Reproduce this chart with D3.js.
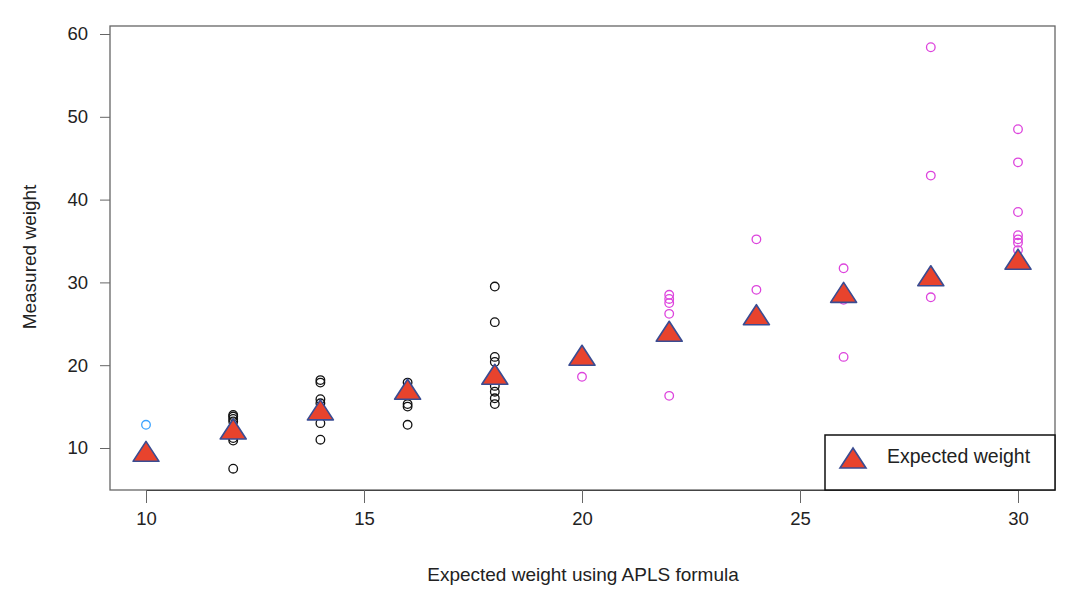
<!DOCTYPE html>
<html>
<head>
<meta charset="utf-8">
<script src="https://cdn.jsdelivr.net/npm/d3@7"></script>
<style>
  body { margin: 0; background: #fff; }
  text { font-family: "Liberation Sans", Arial, sans-serif; }
</style>
</head>
<body>
<svg id="chart" width="1066" height="591"></svg>
<script>
// expected weight (x) groups and the mean triangle values
const groups = [10, 12, 14, 16, 18, 20, 22, 24, 26, 28, 30]
const expected = [9.6, 12.3, 14.6, 17.1, 18.9, 21.2, 24.1, 26.1, 28.8, 30.8, 32.8]

// measured weights per group
const measured = [
  [12.8],
  [14.0, 13.8, 13.5, 13.2, 11.2, 10.9, 7.5],
  [18.2, 17.9, 15.9, 15.4, 13.0, 11.0],
  [17.9, 15.3, 15.0, 12.8],
  [29.5, 25.2, 21.0, 20.4, 17.5, 16.8, 16.0, 15.3],
  [18.6],
  [28.5, 28.0, 27.5, 26.2, 16.3],
  [35.2, 29.1],
  [31.7, 27.9, 21.0],
  [58.4, 42.9, 28.2],
  [48.5, 44.5, 38.5, 35.7, 35.2, 34.8, 33.9]
]

const xTicks = [10, 15, 20, 25, 30]
const yTicks = [10, 20, 30, 40, 50, 60]

const svg = d3.select('#chart')

const x = d3.scaleLinear().domain([10, 30]).range([146, 1018])
const y = d3.scaleLinear().domain([10, 60]).range([448, 34])

const colorFor = g => g < 12 ? '#3ba3ff' : (g < 20 ? '#111' : '#dd44dd')

// plot box
svg.append('rect')
    .attr('x', 110).attr('y', 26)
    .attr('width', 945).attr('height', 464)
    .attr('fill', 'none')
    .attr('stroke', '#666')
    .attr('stroke-width', 1.3)

// x axis
const xAxis = svg.append('g')
    .attr('transform', 'translate(0,490)')
    .call(d3.axisBottom(x).tickValues(xTicks).tickSize(13).tickPadding(9))
xAxis.select('.domain').attr('stroke', '#444')
xAxis.selectAll('.tick line').attr('stroke', '#666')
xAxis.selectAll('text').attr('font-size', 18.5).attr('fill', '#222')
    .attr('font-family', '"Liberation Sans", Arial, sans-serif')

// y axis
const yAxis = svg.append('g')
    .attr('transform', 'translate(110,0)')
    .call(d3.axisLeft(y).tickValues(yTicks).tickSize(10).tickPadding(12))
yAxis.select('.domain').remove()
yAxis.selectAll('.tick line').attr('stroke', '#666')
yAxis.selectAll('text').attr('font-size', 18.5).attr('fill', '#222')
    .attr('font-family', '"Liberation Sans", Arial, sans-serif')

// axis titles
svg.append('text')
    .attr('x', 583).attr('y', 581)
    .attr('text-anchor', 'middle')
    .attr('font-size', 19).attr('fill', '#222')
    .text('Expected weight using APLS formula')

svg.append('text')
    .attr('transform', 'translate(36,257) rotate(-90)')
    .attr('text-anchor', 'middle')
    .attr('font-size', 19).attr('fill', '#222')
    .text('Measured weight')

// measured points
const pts = []
groups.forEach((g, i) => measured[i].forEach(v => pts.push({ g, v })))

svg.append('g').selectAll('circle')
  .data(pts)
  .enter().append('circle')
    .attr('cx', d => x(d.g))
    .attr('cy', d => y(d.v))
    .attr('r', 4.3)
    .attr('fill', 'none')
    .attr('stroke', d => colorFor(d.g))
    .attr('stroke-width', 1.3)

// flat triangle, box-centred like R's pch 24
const triShape = {
  draw(ctx) {
    ctx.moveTo(0, -10)
    ctx.lineTo(13, 10)
    ctx.lineTo(-13, 10)
    ctx.closePath()
  }
}
const tri = d3.symbol().type(triShape)

svg.append('g').selectAll('path')
  .data(groups)
  .enter().append('path')
    .attr('transform', (g, i) => `translate(${x(g)},${y(expected[i])})`)
    .attr('d', tri)
    .attr('fill', '#e8432d')
    .attr('stroke', '#3a4c92')
    .attr('stroke-width', 1.6)
    .attr('stroke-linejoin', 'round')

// legend
const legend = svg.append('g')
legend.append('rect')
    .attr('x', 825).attr('y', 435)
    .attr('width', 230).attr('height', 55)
    .attr('fill', '#fff')
    .attr('stroke', '#111')
    .attr('stroke-width', 1.5)
legend.append('path')
    .attr('transform', 'translate(853,458)')
    .attr('d', tri)
    .attr('fill', '#e8432d')
    .attr('stroke', '#3a4c92')
    .attr('stroke-width', 1.6)
legend.append('text')
    .attr('x', 887).attr('y', 463)
    .attr('font-family', 'Lato, "Open Sans", sans-serif')
    .attr('font-size', 19.5).attr('fill', '#222')
    .text('Expected weight')
</script>
</body>
</html>
